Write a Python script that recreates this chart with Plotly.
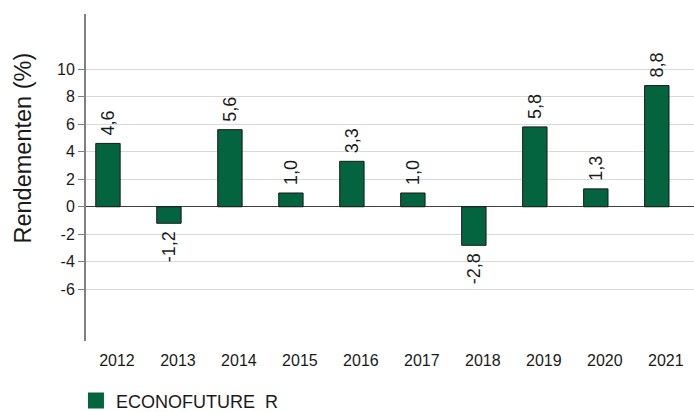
import plotly.graph_objects as go

years = ["2012", "2013", "2014", "2015", "2016", "2017", "2018", "2019", "2020", "2021"]
returns = [4.6, -1.2, 5.6, 1.0, 3.3, 1.0, -2.8, 5.8, 1.3, 8.8]
y_ticks = [10, 8, 6, 4, 2, 0, -2, -4, -6]
y_ticktext = [str(v) for v in y_ticks]
series_name = "ECONOFUTURE  R"
y_title = "Rendementen (%)"

NBSP = "\u00a0"
labels = [
    (NBSP + f"{v:.1f}".replace(".", ",")) if v >= 0 else (f"{v:.1f}".replace(".", ",") + NBSP)
    for v in returns
]

GREEN = "#03643F"
FONT = "Liberation Sans, Arial, sans-serif"

fig = go.Figure()
fig.add_trace(go.Bar(
    x=years, y=returns, text=labels, textposition="outside", textangle=-90,
    constraintext="none",
    textfont=dict(family=FONT, size=18, color="#1a1a1a"),
    marker=dict(color=GREEN, line=dict(color="#1a1a1a", width=1)),
    width=0.4, showlegend=False, cliponaxis=False,
))
fig.add_trace(go.Scatter(
    x=[None], y=[None], mode="markers", name=series_name.replace(" ", NBSP),
    marker=dict(symbol="square", size=20, color=GREEN),
    showlegend=True,
))

fig.update_layout(
    width=694, height=412,
    margin=dict(l=86, r=0, t=14, b=71, autoexpand=False),
    paper_bgcolor="white", plot_bgcolor="white",
    font=dict(family=FONT, color="#1a1a1a"),
    showlegend=True,
    legend=dict(
        orientation="h", xref="paper", yref="paper",
        x=-0.0165, y=-0.183, xanchor="left", yanchor="middle",
        font=dict(family=FONT, size=18, color="#1a1a1a"),
        itemsizing="trace",
    ),
    xaxis=dict(
        type="category", range=[-0.36, 9.61], automargin=False,
        showgrid=False, showline=False, ticks="",
        tickfont=dict(family=FONT, size=16, color="#1a1a1a"),
        ticklabelshift=9, ticklabelstandoff=8,
    ),
    yaxis=dict(
        range=[-9.75, 14], tickvals=y_ticks, ticktext=y_ticktext, automargin=False,
        showgrid=True, gridcolor="#d9d9d9", gridwidth=1,
        zeroline=True, zerolinecolor="#404040", zerolinewidth=1,
        showline=True, linecolor="#808080", linewidth=2,
        ticks="outside", ticklen=6, tickcolor="#808080",
        tickfont=dict(family=FONT, size=16, color="#1a1a1a"),
    ),
    annotations=[dict(
        text=y_title, textangle=-90, showarrow=False,
        xref="paper", yref="paper",
        x=-86 / 608 + 22.5 / 608, y=(341 - 148) / 327,
        xanchor="center", yanchor="middle",
        font=dict(family=FONT, size=23.5, color="#1a1a1a"),
    )],
)

fig.write_html(
    "out.html",
    config={"displayModeBar": False},
    post_script="document.body.style.margin='0';",
)
